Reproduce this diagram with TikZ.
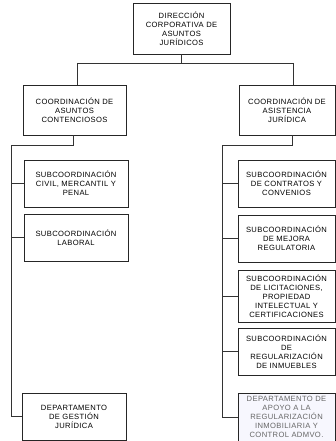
\documentclass[tikz,border=0pt]{standalone}
\usepackage{fontspec}
\setmainfont{Liberation Sans}[LetterSpace=5]
\usepackage{tikz}

\begin{document}
\begin{tikzpicture}[x=1pt,y=-1pt,
  box/.style={draw=black!85,line width=0.6pt,rectangle,align=center,inner sep=1pt,
    font=\fontsize{7.6}{9}\selectfont},
  line/.style={draw=black!80,line width=0.5pt}]
\useasboundingbox (0,0) rectangle (336,441);

\node[box,minimum width=97pt,minimum height=51pt] (dir) at (181.5,28.5) {DIRECCIÓN\\CORPORATIVA DE\\ASUNTOS\\JURÍDICOS};

\node[box,minimum width=103pt,minimum height=50pt] (coorA) at (74.5,110) {COORDINACIÓN DE\\ASUNTOS\\CONTENCIOSOS};
\node[box,minimum width=96pt,minimum height=50pt] (coorB) at (287,110) {COORDINACIÓN DE\\ASISTENCIA\\JURÍDICA};

\node[box,minimum width=104pt,minimum height=47pt] (civil) at (76,183.5) {SUBCOORDINACIÓN\\CIVIL, MERCANTIL Y\\PENAL};
\node[box,minimum width=104pt,minimum height=47pt] (laboral) at (76,237.5) {SUBCOORDINACIÓN\\LABORAL};
\node[box,minimum width=104pt,minimum height=47pt] (gestion) at (74,416.5) {DEPARTAMENTO\\DE GESTIÓN\\JURÍDICA};

\node[box,minimum width=97pt,minimum height=47pt] (contratos) at (286.5,183.5) {SUBCOORDINACIÓN\\DE CONTRATOS Y\\CONVENIOS};
\node[box,minimum width=97pt,minimum height=47pt] (mejora) at (286.5,238.5) {SUBCOORDINACIÓN\\DE MEJORA\\REGULATORIA};
\node[box,minimum width=97pt,minimum height=52pt] (licit) at (286.5,296) {SUBCOORDINACIÓN\\DE LICITACIONES,\\PROPIEDAD\\INTELECTUAL Y\\CERTIFICACIONES};
\node[box,minimum width=97pt,minimum height=47pt] (inmuebles) at (286.5,351.5) {SUBCOORDINACIÓN\\DE\\REGULARIZACIÓN\\DE INMUEBLES};
\node[box,minimum width=97pt,minimum height=48pt,fill=black!15!blue!3!white,text=black!60] (apoyo) at (286.5,417) {DEPARTAMENTO DE\\APOYO A LA\\REGULARIZACIÓN\\INMOBILIARIA Y\\CONTROL ADMVO.};

\coordinate (busL) at (77,63);
\coordinate (busR) at (293,63);
\coordinate (spA) at (11,145);
\coordinate (spB) at (222,145);

\draw[line] (dir.south) -- (dir.south |- busL);
\draw[line] (busL) -- (busR);
\draw[line] (busL) -- (busL |- coorA.north);
\draw[line] (busR) -- (busR |- coorB.north);

\draw[line] (coorA.south -| 73,0) -- (73,145) -- (spA) -- (spA |- gestion.west) -- (gestion.west);
\draw[line] (spA |- civil.west) -- (civil.west);
\draw[line] (spA |- laboral.west) -- (laboral.west);

\draw[line] (coorB.south -| 292,0) -- (292,145) -- (spB) -- (spB |- apoyo.west) -- (apoyo.west);
\draw[line] (spB |- contratos.west) -- (contratos.west);
\draw[line] (spB |- mejora.west) -- (mejora.west);
\draw[line] (spB |- licit.west) -- (licit.west);
\draw[line] (spB |- inmuebles.west) -- (inmuebles.west);
\end{tikzpicture}
\end{document}
